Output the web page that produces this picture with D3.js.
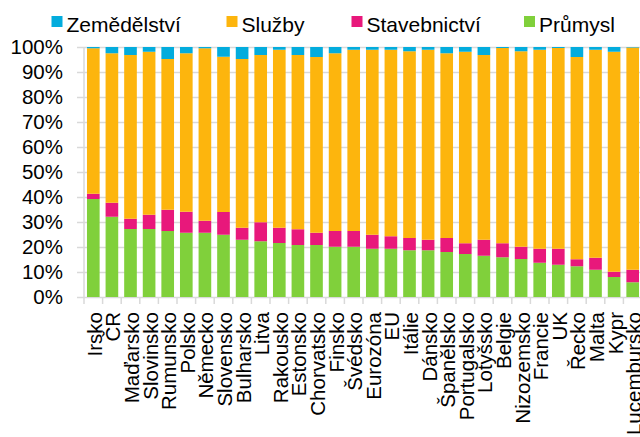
<!DOCTYPE html>
<html>
<head>
<meta charset="utf-8">
<script src="https://cdn.jsdelivr.net/npm/d3@7"></script>
<style>
  body { margin: 0; background: #fff; }
  svg { display: block; font-family: "Liberation Sans", Arial, sans-serif; }
</style>
</head>
<body>
<div class="vis"></div>
<script>
const categories = ["Irsko", "ČR", "Maďarsko", "Slovinsko", "Rumunsko", "Polsko", "Německo", "Slovensko",
    "Bulharsko", "Litva", "Rakousko", "Estonsko", "Chorvatsko", "Finsko", "Švédsko", "Eurozóna", "EU",
    "Itálie", "Dánsko", "Španělsko", "Portugalsko", "Lotyšsko", "Belgie", "Nizozemsko", "Francie", "UK",
    "Řecko", "Malta", "Kypr", "Lucembursko"];

const prumysl = [39.2, 32.1, 27.2, 27.2, 26.4, 25.7, 25.7, 24.9, 22.9, 22.3, 21.6, 20.8, 20.8, 20.1, 20.1,
    19.3, 19.3, 18.7, 18.7, 18.0, 17.2, 16.5, 15.9, 15.2, 13.7, 12.9, 12.3, 10.9, 8.0, 5.9];
const stavebnictvi = [2.1, 5.6, 4.1, 5.7, 8.5, 8.4, 4.8, 9.1, 4.8, 7.6, 6.1, 6.3, 4.9, 6.3, 6.3,
    5.6, 5.0, 4.9, 4.2, 5.6, 4.3, 6.4, 5.6, 4.9, 5.6, 6.4, 2.8, 4.8, 2.1, 5.0];
const sluzby = [58.2, 59.8, 65.5, 65.2, 60.3, 63.4, 69.0, 62.1, 67.5, 66.9, 71.2, 69.7, 70.3, 71.1, 72.5,
    74.0, 74.6, 74.7, 76.0, 73.9, 76.6, 73.9, 78.1, 78.2, 79.6, 80.3, 80.9, 83.2, 88.0, 88.9];
const zemedelstvi = [0.5, 2.5, 3.2, 1.9, 4.8, 2.5, 0.5, 3.9, 4.8, 3.2, 1.1, 3.2, 4.0, 2.5, 1.1,
    1.1, 1.1, 1.7, 1.1, 2.5, 1.9, 3.2, 0.4, 1.7, 1.1, 0.4, 4.0, 1.1, 1.9, 0.2];

const yTicks = [0, 10, 20, 30, 40, 50, 60, 70, 80, 90, 100];

// stack order bottom -> top, legend order is reversed
const seriesNames = ["Průmysl", "Stavebnictví", "Služby", "Zemědělství"];
const seriesValues = [prumysl, stavebnictvi, sluzby, zemedelstvi];
const legendNames = ["Zemědělství", "Služby", "Stavebnictví", "Průmysl"];

const colors = {
    "Zemědělství": "#03acdd",
    "Služby": "#fdb50d",
    "Stavebnictví": "#e8187b",
    "Průmysl": "#80d03b"
};

const width = 640, height = 437;
const margin = {top: 47, bottom: 297, left: 84, right: 642};
const gridColor = "#d9d9d9";

let svg = d3.select(".vis")
    .append("svg")
    .attr("width", width)
    .attr("height", height);

let rows = categories.map((c, i) => {
    let r = {cat: c};
    seriesNames.forEach((s, k) => r[s] = seriesValues[k][i]);
    return r;
});

let stack = d3.stack().keys(seriesNames)(rows);

let x = d3.scaleBand()
    .domain(categories)
    .range([margin.left, margin.right])
    .paddingInner(0.32)
    .paddingOuter(0.16);

let y = d3.scaleLinear()
    .domain([0, 100])
    .range([margin.bottom, margin.top]);

// grid + y labels
let yAxis = svg.append("g")
    .attr("transform", "translate(77,0)")
    .call(d3.axisLeft(y)
        .tickValues(yTicks)
        .tickFormat(d => d + "%")
        .tickSizeInner(-(width - 77))
        .tickSizeOuter(0)
        .tickPadding(14));
yAxis.select(".domain").remove();
yAxis.selectAll("line").attr("stroke", gridColor).attr("stroke-width", 1.5);
yAxis.selectAll("text")
    .style("font-size", "20.5px")
    .attr("fill", "#000");

// vertical axis line
svg.append("line")
    .attr("x1", margin.left).attr("x2", margin.left)
    .attr("y1", y(100)).attr("y2", y(0))
    .attr("stroke", gridColor)
    .attr("stroke-width", 1.5);

// category tick marks
svg.append("g")
    .selectAll("line")
    .data(d3.range(categories.length + 1))
    .join("line")
    .attr("x1", i => margin.left + i * x.step())
    .attr("x2", i => margin.left + i * x.step())
    .attr("y1", y(0))
    .attr("y2", y(0) + 7)
    .attr("stroke", gridColor)
    .attr("stroke-width", 1.5);

// bars
svg.append("g")
    .selectAll("g")
    .data(stack)
    .join("g")
    .attr("fill", d => colors[d.key])
    .selectAll("rect")
    .data(d => d)
    .join("rect")
    .attr("x", d => x(d.data.cat))
    .attr("width", x.bandwidth())
    .attr("y", d => y(d[1]))
    .attr("height", d => y(d[0]) - y(d[1]));

// category labels
svg.append("g")
    .selectAll("text")
    .data(categories)
    .join("text")
    .attr("transform", d => "translate(" + (x(d) + x.bandwidth() / 2 + 8.5) + "," + 312 + ") rotate(-90)")
    .style("text-anchor", "end")
    .style("font-size", "20.5px")
    .attr("fill", "#000")
    .text(d => d);

// legend
const legendX = [51.5, 226.5, 351.5, 524];
let legend = svg.append("g")
    .selectAll("g")
    .data(legendNames)
    .join("g")
    .attr("transform", (d, i) => "translate(" + legendX[i] + ",16)");

legend.append("rect")
    .attr("width", 11)
    .attr("height", 11)
    .attr("fill", d => colors[d]);

legend.append("text")
    .attr("x", 15)
    .attr("y", 15.5)
    .style("font-size", "21px")
    .attr("fill", "#000")
    .text(d => d);
</script>
</body>
</html>
